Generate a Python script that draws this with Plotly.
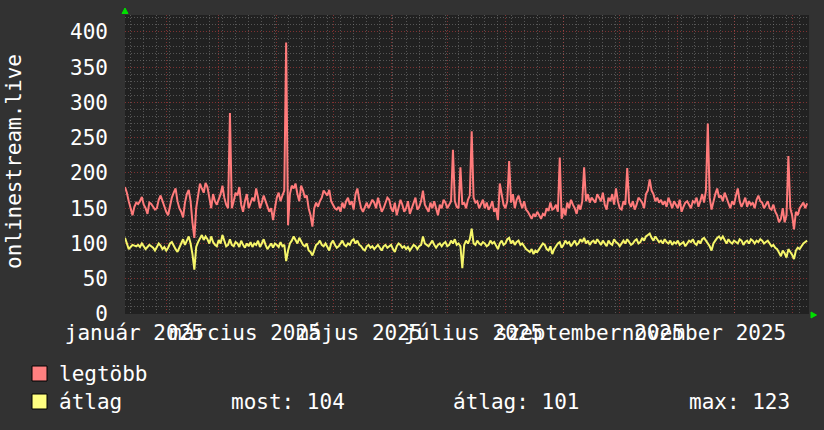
import datetime as dt
import plotly.graph_objects as go

# ---------------- data ----------------
start_date = dt.date(2025, 1, 10)

legtobb = [
    180, 172, 160, 150, 140, 152, 158, 156, 160, 166,
    155, 150, 142, 158, 156, 152, 148, 150, 162, 168,
    160, 150, 145, 140, 155, 165, 172, 178, 160, 150,
    145, 137, 158, 170, 176, 160, 130, 108, 150, 165,
    185, 178, 172, 186, 180, 165, 150, 170, 160, 155,
    162, 170, 182, 165, 155, 150, 285, 150, 160, 172,
    168, 180, 155, 145, 160, 170, 150, 158, 165, 160,
    178, 165, 150, 158, 168, 160, 152, 145, 150, 133,
    150, 165, 172, 160, 168, 175, 385, 126, 170, 182,
    178, 185, 170, 160, 182, 175, 165, 168, 150, 140,
    124, 150, 158, 152, 160, 165, 175, 172, 168, 176,
    160, 155, 150, 148, 152, 145, 158, 150, 160, 165,
    155, 160, 148, 170, 178, 162, 150, 145, 152, 158,
    150, 155, 162, 158, 150, 165, 155, 145, 150, 158,
    165, 162, 150, 145, 158, 140, 150, 162, 155, 145,
    150, 160, 142, 150, 158, 165, 148, 152, 160, 175,
    155, 150, 145, 158, 150, 160, 148, 140, 155, 150,
    162, 158, 150, 155, 160, 233, 160, 152, 150, 208,
    155, 158, 150, 162, 168, 259, 165, 158, 160, 150,
    155, 162, 150, 158, 148, 152, 160, 145, 150, 133,
    185, 170, 155, 150, 160, 217, 158, 170, 150, 162,
    168, 158, 150, 160, 148, 145, 140, 135, 142, 138,
    145, 140, 135, 142, 140, 150, 146, 158, 148, 150,
    155, 145, 222, 135, 150, 140, 158, 150, 162, 155,
    150, 142, 155, 148, 160, 208, 160, 170, 158, 165,
    162, 158, 170, 165, 160, 172, 155, 148, 165, 160,
    170, 155, 178, 160, 150, 148, 160, 155, 207, 158,
    152, 160, 148, 155, 165, 162, 158, 150, 170, 175,
    191, 175, 170, 160, 165, 158, 162, 155, 160, 152,
    165, 158, 150, 160, 155, 150, 162, 145, 152, 158,
    160, 155, 150, 160, 158, 165, 152, 160, 170, 158,
    175, 270, 165, 148, 160, 170, 178, 165, 168, 160,
    172, 165, 158, 150, 160, 155, 168, 178, 160, 152,
    158, 165, 152, 160, 155, 158, 150, 162, 168, 160,
    158, 150, 155, 160, 150, 148, 155, 145, 140, 130,
    135, 150, 130, 140, 224, 150, 140, 120, 145, 140,
    150, 155, 158, 150, 157,
]

atlag = [
    108, 98, 92, 95, 98, 97, 96, 98, 95, 100,
    96, 92, 95, 98, 96, 94, 90, 95, 100, 97,
    92, 95, 90, 94, 100, 102, 96, 92, 88, 95,
    100, 106, 98, 104, 110, 100, 85, 63, 95, 102,
    108, 112, 105, 110, 106, 100, 110, 102, 98, 96,
    105, 100, 112, 104, 96, 98, 106, 98, 96, 102,
    100, 95, 104, 98, 94, 100, 96, 102, 95, 100,
    98, 104, 95, 100, 106, 98, 92, 96, 100, 94,
    100, 98, 95, 102, 96, 98, 75, 90, 100, 104,
    110, 105, 100, 108, 102, 98, 96, 100, 90, 88,
    83, 92, 98, 100, 104, 98, 96, 100, 95, 90,
    100, 104, 98, 94, 96, 100, 104, 98, 96, 100,
    98, 104, 106, 100, 104, 98, 96, 92, 90, 96,
    98, 94, 96, 92, 95, 98, 94, 90, 96, 98,
    94, 96, 98, 92, 88, 96, 100, 98, 94, 96,
    92, 95, 90, 94, 98, 96, 92, 96, 98, 110,
    100, 98, 96, 100, 104, 98, 94, 98, 100, 96,
    100, 102, 96, 98, 104, 100, 106, 98, 100, 96,
    65, 98, 104, 100, 106, 121, 100, 98, 104, 100,
    98, 102, 100, 96, 98, 104, 100, 102, 96, 92,
    100, 104, 98, 100, 106, 108, 100, 104, 98, 102,
    104, 98, 100, 96, 92, 90, 88, 92, 85, 90,
    88, 92, 96, 100, 98, 92, 90, 96, 85, 92,
    96, 100, 102, 94, 98, 104, 100, 102, 96, 100,
    104, 98, 100, 106, 102, 108, 100, 104, 98, 102,
    104, 100, 106, 102, 98, 104, 100, 96, 104, 100,
    98, 106, 102, 100, 96, 100, 104, 100, 106, 102,
    98, 100, 104, 106, 100, 102, 108, 104, 110, 112,
    114, 108, 104, 110, 106, 102, 104, 100, 106, 102,
    100, 104, 98, 102, 100, 104, 98, 100, 102, 96,
    100, 104, 102, 106, 100, 98, 104, 100, 106, 108,
    104, 100, 96, 90, 100, 104, 108, 110, 106, 110,
    104, 100, 106, 102, 100, 104, 102, 100, 106, 104,
    98, 102, 104, 100, 106, 104, 100, 104, 102, 106,
    104, 100, 102, 104, 100, 96, 98, 94, 92, 86,
    82, 90, 86, 80, 92, 88, 84, 78, 90, 94,
    92, 96, 100, 102, 104,
]

dates = [start_date + dt.timedelta(days=i) for i in range(len(legtobb))]

month_starts = ["2025-02-01", "2025-03-01", "2025-04-01", "2025-05-01", "2025-06-01",
                "2025-07-01", "2025-08-01", "2025-09-01", "2025-10-01", "2025-11-01",
                "2025-12-01", "2026-01-01"]
label_dates = ["2025-01-15", "2025-03-15", "2025-05-15", "2025-07-15", "2025-09-15", "2025-11-15"]
label_texts = ["január 2025", "március 2025", "május 2025", "július 2025",
               "szeptember 2025", "november 2025"]

y_title = "onlinestream.live"
legend_names = ["legtöbb", "átlag"]
stats_texts = ["most: 104", "átlag: 101", "max: 123"]

# ---------------- layout geometry ----------------
W, H = 824, 430
L, R, T, B = 125, 15, 15, 116
PW, PH = W - L - R, H - T - B

def px(x):
    return (x - L) / PW

def py(y):
    return (H - B - y) / PH

FONT = "DejaVu Sans Mono"
FS = 21
RED = "#ff7b7b"
YEL = "#f6f66a"
MAJ = "rgba(190,60,60,0.6)"
MIN = "rgba(130,130,130,0.55)"

fig = go.Figure()
fig.add_trace(go.Scatter(x=dates, y=legtobb, mode="lines", line=dict(color=RED, width=2),
                         hoverinfo="skip", showlegend=False))
fig.add_trace(go.Scatter(x=dates, y=atlag, mode="lines", line=dict(color=YEL, width=2),
                         hoverinfo="skip", showlegend=False))
fig.add_trace(go.Scatter(x=[label_dates[0]], y=[None], xaxis="x2", mode="markers",
                         hoverinfo="skip", showlegend=False))

xr = ["2025-01-10", "2026-01-10"]
fig.update_layout(
    width=W, height=H,
    margin=dict(l=L, r=R, t=T, b=B, pad=0),
    paper_bgcolor="#323232",
    plot_bgcolor="#212121",
    font=dict(family=FONT, size=FS, color="#ffffff"),
    xaxis=dict(type="date", range=xr, tickmode="array", tickvals=month_starts,
               showticklabels=False, ticks="", showgrid=True, gridcolor=MAJ,
               griddash="1px,2px", gridwidth=1, zeroline=False, showline=False,
               minor=dict(tickmode="linear", tick0="2025-01-13", dtick=7 * 86400000,
                          showgrid=True, gridcolor=MIN, griddash="1px,2px", gridwidth=1, ticks="")),
    xaxis2=dict(type="date", range=xr, overlaying="x", anchor="y", side="bottom",
                tickmode="array", tickvals=label_dates, ticktext=label_texts,
                tickangle=0, showgrid=False, ticks="", zeroline=False, showline=False,
                ticklabelstandoff=4, tickfont=dict(family=FONT, size=FS, color="#ffffff")),
    yaxis=dict(range=[0, 424], tickmode="linear", tick0=0, dtick=50, ticks="",
               showgrid=True, gridcolor=MAJ, griddash="1px,2px", gridwidth=1,
               zeroline=False, showline=False, ticklabelstandoff=16,
               tickfont=dict(family=FONT, size=FS, color="#ffffff"),
               minor=dict(tickmode="linear", tick0=0, dtick=10, showgrid=True,
                          gridcolor=MIN, griddash="1px,2px", gridwidth=1, ticks="")),
)

ann = [dict(text=y_title, x=px(14), y=py(162), xref="paper", yref="paper", showarrow=False,
            textangle=-90, xanchor="center", yanchor="middle",
            font=dict(family=FONT, size=FS, color="#ffffff"))]
ann.append(dict(text=legend_names[0], x=px(57), y=py(374), xref="paper", yref="paper",
                showarrow=False, xanchor="left", yanchor="middle"))
ann.append(dict(text=legend_names[1], x=px(57), y=py(402), xref="paper", yref="paper",
                showarrow=False, xanchor="left", yanchor="middle"))
for t, xx in zip(stats_texts, [229, 451, 687]):
    ann.append(dict(text=t, x=px(xx), y=py(402), xref="paper", yref="paper",
                    showarrow=False, xanchor="left", yanchor="middle"))
fig.update_layout(annotations=ann)

shapes = []
for (y0, y1), c in zip([(366, 381), (394, 409)], ["#ff8080", "#ffff80"]):
    shapes.append(dict(type="rect", xref="paper", yref="paper", x0=px(32), x1=px(47),
                       y0=py(y1), y1=py(y0), fillcolor=c, line=dict(color="#000000", width=1)))

def tri(points):
    p = "M " + " L ".join(f"{px(a)},{py(b)}" for a, b in points) + " Z"
    return dict(type="path", xref="paper", yref="paper", path=p, fillcolor="#00e000",
                line=dict(color="#00e000", width=1))

shapes.append(tri([(122, 13.5), (128, 13.5), (125, 8)]))
shapes.append(tri([(811, 312), (811, 318), (816.5, 315)]))
fig.update_layout(shapes=shapes)

fig.write_html("out.html", config={"displayModeBar": False},
               post_script="document.body.style.margin='0';document.body.style.padding='0';")
